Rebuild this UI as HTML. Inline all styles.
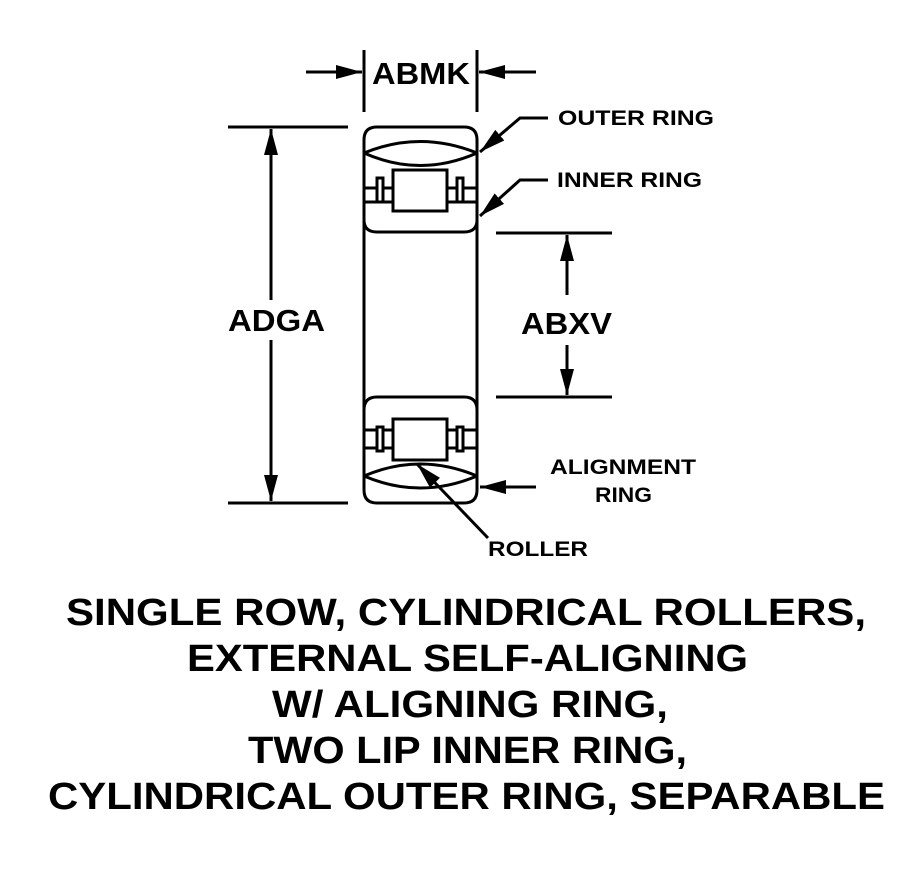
<!DOCTYPE html>
<html><head><style>body{margin:0;background:#fff}</style></head><body>
<svg width="924" height="865" xmlns="http://www.w3.org/2000/svg" font-family="Liberation Sans, sans-serif" font-weight="bold">
<defs>
<marker id="b" markerWidth="26" markerHeight="14" refX="26" refY="7" orient="auto" markerUnits="userSpaceOnUse"><path d="M0,0 L26,7 L0,14z"/></marker></defs>
<g stroke="#000" stroke-width="3" fill="none">
<line x1="364" y1="50" x2="364" y2="112"/><line x1="477" y1="50" x2="477" y2="112"/>
<line x1="306" y1="72" x2="362" y2="72" marker-end="url(#b)"/>
<line x1="536" y1="72" x2="479" y2="72" marker-end="url(#b)"/>
<line x1="228" y1="127" x2="348" y2="127"/><line x1="228" y1="503" x2="348" y2="503"/>
<line x1="271" y1="300" x2="271" y2="129" marker-end="url(#b)"/>
<line x1="271" y1="340" x2="271" y2="501" marker-end="url(#b)"/>
<line x1="496" y1="233" x2="612" y2="233"/><line x1="496" y1="397" x2="612" y2="397"/>
<line x1="567" y1="295" x2="567" y2="235" marker-end="url(#b)"/>
<line x1="567" y1="345" x2="567" y2="395" marker-end="url(#b)"/>
<line x1="364" y1="140" x2="364" y2="490"/><line x1="477" y1="140" x2="477" y2="490"/>
<path d="M364,140 Q364,127 377,127 L464,127 Q477,127 477,140"/>
<path d="M364,490 Q364,503 377,503 L464,503 Q477,503 477,490"/>
<path d="M364,220 Q364,232 377,232 L464,232 Q477,232 477,220"/>
<path d="M364,410 Q364,397 377,397 L464,397 Q477,397 477,410"/>
<path d="M364,153 Q420,130 477,153"/><path d="M364,153 Q420,178 477,153"/>
<path d="M364,476 Q420,452 477,476"/><path d="M364,476 Q420,500 477,476"/>
<rect x="393" y="170" width="54" height="41"/>
<rect x="393" y="419" width="54" height="41"/>
<line x1="364" y1="188" x2="393" y2="188"/><line x1="364" y1="202" x2="393" y2="202"/>
<line x1="447" y1="188" x2="477" y2="188"/><line x1="447" y1="202" x2="477" y2="202"/>
<line x1="364" y1="430" x2="393" y2="430"/><line x1="364" y1="448" x2="393" y2="448"/>
<line x1="447" y1="430" x2="477" y2="430"/><line x1="447" y1="448" x2="477" y2="448"/>
<rect x="377" y="178" width="6" height="24" fill="#fff"/><rect x="457" y="178" width="6" height="24" fill="#fff"/>
<rect x="377" y="427" width="6" height="24" fill="#fff"/><rect x="457" y="427" width="6" height="24" fill="#fff"/>
<polyline points="548,118 520,118 480,152" marker-end="url(#b)"/>
<polyline points="548,180 520,180 480,216" marker-end="url(#b)"/>
<line x1="536" y1="487" x2="480" y2="487" marker-end="url(#b)"/>
<line x1="488" y1="538" x2="417" y2="464" marker-end="url(#b)"/>
</g>
<g font-size="31" lengthAdjust="spacingAndGlyphs">
<text x="372" y="84" textLength="98" lengthAdjust="spacingAndGlyphs">ABMK</text>
<text x="228" y="331" textLength="97" lengthAdjust="spacingAndGlyphs">ADGA</text>
<text x="521" y="334" textLength="91" lengthAdjust="spacingAndGlyphs">ABXV</text>
</g>
<g font-size="21" font-weight="normal" style="font-weight:600">
<text x="558" y="125" textLength="156" lengthAdjust="spacingAndGlyphs">OUTER RING</text>
<text x="557" y="187" textLength="145" lengthAdjust="spacingAndGlyphs">INNER RING</text>
<text x="550" y="474" textLength="146" lengthAdjust="spacingAndGlyphs">ALIGNMENT</text>
<text x="595" y="502" textLength="57" lengthAdjust="spacingAndGlyphs">RING</text>
<text x="488" y="556" textLength="100" lengthAdjust="spacingAndGlyphs">ROLLER</text>
</g>
<g font-size="38">
<text x="66" y="625" textLength="800" lengthAdjust="spacingAndGlyphs">SINGLE ROW, CYLINDRICAL ROLLERS,</text>
<text x="187" y="671" textLength="561" lengthAdjust="spacingAndGlyphs">EXTERNAL SELF-ALIGNING</text>
<text x="272" y="717" textLength="396" lengthAdjust="spacingAndGlyphs">W/ ALIGNING RING,</text>
<text x="248" y="763" textLength="439" lengthAdjust="spacingAndGlyphs">TWO LIP INNER RING,</text>
<text x="48" y="809" textLength="837" lengthAdjust="spacingAndGlyphs">CYLINDRICAL OUTER RING, SEPARABLE</text>
</g>
</svg>
</body></html>
